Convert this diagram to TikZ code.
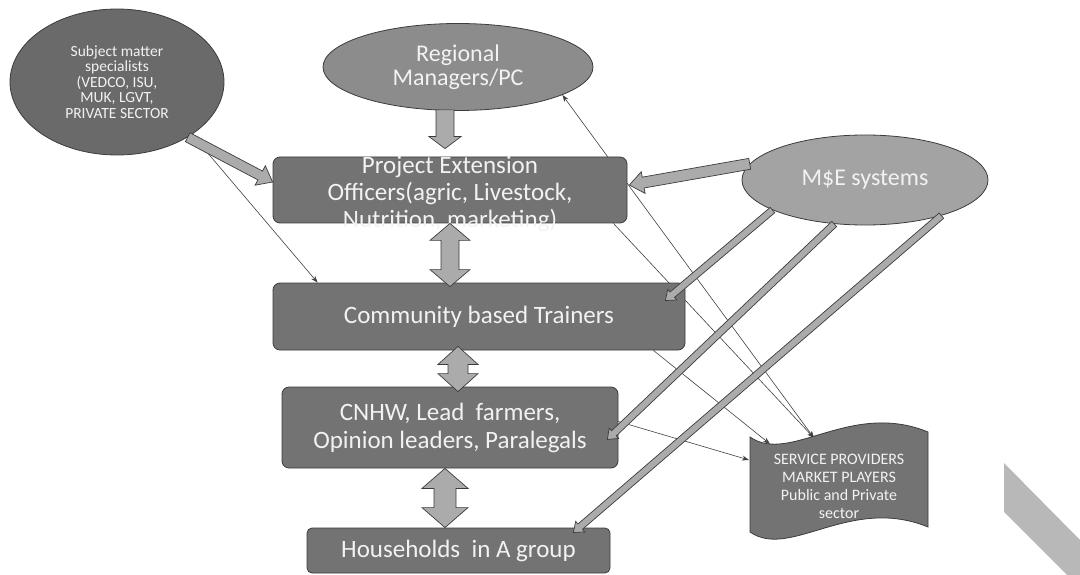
\documentclass[tikz,border=0pt]{standalone}
\usepackage{fontspec}
\setmainfont{Carlito}
\usetikzlibrary{calc, positioning, backgrounds, shapes.geometric, arrows.meta}

\definecolor{boxgray}{HTML}{737373}
\definecolor{edgegray}{HTML}{3C3C3C}
\definecolor{ovalgray}{HTML}{8C8C8C}
\definecolor{megray}{HTML}{A3A3A3}
\definecolor{arrowgray}{HTML}{ABABAB}
\definecolor{inkgray}{HTML}{F2F2F2}
\definecolor{scangray}{HTML}{B8B8B8}

\tikzset{
  unitbox/.style={draw=edgegray, fill=boxgray, rounded corners=7pt, line width=0.8pt, text=inkgray, align=center, font=\fontsize{25}{28}\selectfont},
  boxtext/.style={text=inkgray, align=center, font=\fontsize{25}{27}\selectfont},
  oval/.style={ellipse, draw=edgegray, line width=0.8pt, text=inkgray, align=center, inner sep=0pt},
  fatarrow/.style={draw=edgegray, fill=arrowgray, line width=0.7pt, line join=miter},
  thinarrow/.style={draw=black!75, line width=0.6pt, -{Stealth[length=7pt,width=5pt]}},
  thinboth/.style={draw=black!75, line width=0.6pt, {Stealth[length=7pt,width=5pt]}-{Stealth[length=7pt,width=5pt]}},
}

% block arrow from #2 to #3: half shaft #4, half head #5, head length #6
\newcommand{\fatlink}[6][]{%
  \coordinate (fhb) at ($(#3)!#6!(#2)$);
  \filldraw[fatarrow,#1] ($(#2)!#4!90:(#3)$) -- ($(fhb)!#4!90:(#3)$) -- ($(fhb)!#5!90:(#3)$) -- (#3)
    -- ($(fhb)!#5!-90:(#3)$) -- ($(fhb)!#4!-90:(#3)$) -- ($(#2)!#4!-90:(#3)$) -- cycle;
}
% same, with a head at both ends
\newcommand{\fatbothlink}[6][]{%
  \coordinate (fhb) at ($(#3)!#6!(#2)$);
  \coordinate (fha) at ($(#2)!#6!(#3)$);
  \filldraw[fatarrow,#1] (#2) -- ($(fha)!#5!90:(#3)$) -- ($(fha)!#4!90:(#3)$) -- ($(fhb)!#4!90:(#3)$)
    -- ($(fhb)!#5!90:(#3)$) -- (#3) -- ($(fhb)!#5!-90:(#3)$) -- ($(fhb)!#4!-90:(#3)$)
    -- ($(fha)!#4!-90:(#3)$) -- ($(fha)!#5!-90:(#3)$) -- cycle;
}

\begin{document}
\begin{tikzpicture}[x=1pt, y=-1pt]
    \useasboundingbox (0,0) rectangle (1080,575);

    % ovals
    \node[oval, fill=boxgray!92!black, minimum width=214pt, minimum height=146pt,
          font=\fontsize{15.5}{15.5}\selectfont] (subj) at (117,82)
          {Subject matter\\specialists\\(VEDCO, ISU,\\MUK, LGVT,\\PRIVATE SECTOR};
    \node[oval, fill=ovalgray, minimum width=270pt, minimum height=87pt,
          font=\fontsize{24}{24}\selectfont] (reg) at (458,67) {Regional\\Managers/PC};
    \node[oval, fill=megray, minimum width=246pt, minimum height=90pt,
          font=\fontsize{24}{24}\selectfont] (mne) at (865,180) {M\$E systems};

    % levels
    \node[unitbox, minimum width=354pt, minimum height=66pt] (peo) at (450,190) {};
    \node[boxtext] (peotext) at (450,194) {Project Extension\\Officers(agric, Livestock,\\Nutrition, marketing)};
    \node[unitbox, minimum width=412pt, minimum height=67pt] (cbt) at (479,316.5) {Community based Trainers};
    \node[unitbox, minimum width=336pt, minimum height=81pt] (cnhw) at (450,427.5)
          {CNHW, Lead\ \ farmers,\\Opinion leaders, Paralegals};
    \node[unitbox, minimum width=303pt, minimum height=45pt, rounded corners=5pt] (hh) at (458.5,550.5)
          {Households\ \ in A group};

    % service providers
    \filldraw[draw=edgegray, fill=boxgray, line width=0.8pt]
        (750,437) .. controls (790,465) and (850,400) .. (928,432) -- (928,527)
        .. controls (850,495) and (790,560) .. (750,532) -- cycle;
    \node[text=inkgray, align=center, font=\fontsize{16}{18}\selectfont] (sp) at (839,486)
          {SERVICE PROVIDERS\\MARKET PLAYERS\\Public and Private\\sector};
    \coordinate (spa) at (814,438);
    \coordinate (spb) at (770,444);
    \coordinate (spc) at (749,460);

    \fill[scangray] (1004,463) -- (1080,540) -- (1080,575) -- (1067,575) -- (1004,512) -- cycle;

    % thin links
    \begin{scope}[on background layer]
        \draw[thinarrow] (subj.-35) -- ([xshift=45pt]cbt.north west);
        \draw[thinboth] (reg.-15) -- (spa);
        \draw[thinarrow] ([xshift=-14pt]peo.south east) -- (spa);
        \draw[thinarrow] ([xshift=-32pt]cbt.south east) -- (spb);
        \draw[thinarrow] ([yshift=6pt]cnhw.east) -- (spc);
    \end{scope}

    % fat links
    \coordinate (regfoot) at ([xshift=-13pt,yshift=1pt]reg.south);
    \coordinate (peohead) at ([yshift=8pt]regfoot |- peo.north);
    \fatlink{regfoot}{peohead}{9pt}{16pt}{12pt}

    \coordinate (pa) at (peo.south);
    \coordinate (pb) at ([yshift=-4pt]peo.south |- cbt.north);
    \fatbothlink{pa}{pb}{9pt}{20pt}{17pt}

    \coordinate (ca) at ([xshift=8pt,yshift=4pt]cnhw.north |- cbt.south);
    \coordinate (cb) at ([xshift=8pt,yshift=-5pt]cnhw.north);
    \fatbothlink{ca}{cb}{10pt}{20pt}{18pt}

    \coordinate (na) at ([xshift=-5pt]cnhw.south);
    \coordinate (nb) at (na |- hh.north);
    \fatbothlink{na}{nb}{11pt}{23pt}{20pt}

    \coordinate (sjhead) at ([yshift=8pt]peo.west);
    \fatlink{subj.-38}{sjhead}{5pt}{11pt}{14pt}

    \coordinate (mehead) at ([xshift=2pt,yshift=5pt]peo.east);
    \fatlink{mne.172}{mehead}{5.5pt}{11pt}{14pt}

    \coordinate (cbthead) at ([xshift=-20pt,yshift=16pt]cbt.east);
    \fatlink{mne.198}{cbthead}{3.5pt}{7pt}{9pt}
    \coordinate (cnhwhead) at ([xshift=-11pt,yshift=-12pt]cnhw.east);
    \fatlink{mne.235}{cnhwhead}{3.5pt}{7pt}{9pt}
    \coordinate (hhhead) at ([xshift=-37pt,yshift=18pt]hh.east);
    \fatlink{mne.-25}{hhhead}{3.5pt}{7pt}{9pt}
\end{tikzpicture}
\end{document}
